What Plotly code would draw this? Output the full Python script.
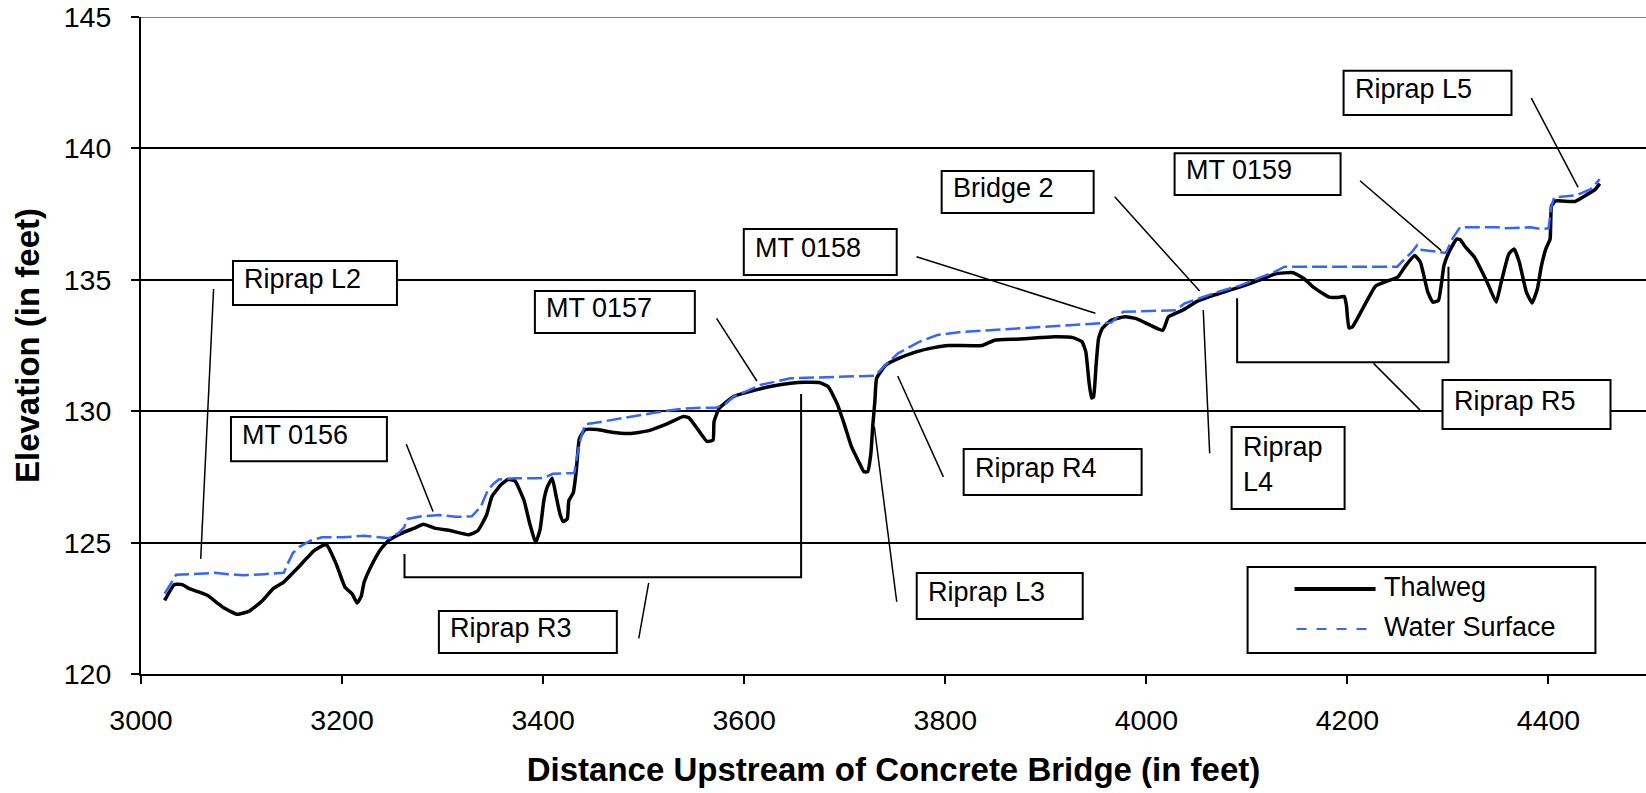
import plotly.graph_objects as go

# ---------------- data ----------------
thalweg_x = [3023.5, 3033, 3041, 3048, 3066, 3076, 3083, 3096, 3108, 3121, 3131.5, 3142, 3155,
             3172.5, 3181.5, 3185, 3194, 3203, 3210, 3215, 3219, 3222, 3229.5, 3238.5, 3247,
             3261.7, 3272, 3281, 3292, 3308, 3326, 3335, 3343.7, 3349, 3358, 3365, 3372, 3381,
             3386.5, 3392.5, 3397, 3400.7, 3404, 3409, 3413, 3416.7, 3420, 3424, 3425.6, 3430,
             3433, 3436, 3441.6, 3454, 3468, 3486, 3504, 3522, 3539.5, 3545, 3554, 3563, 3569,
             3570, 3575, 3589, 3610.7, 3628.5, 3646, 3660.5, 3674.7, 3683.6, 3692.5, 3699.6,
             3706.8, 3714, 3719, 3722.8, 3726, 3728, 3730, 3731.7, 3740.6, 3753, 3771, 3789,
             3803, 3836.7, 3849, 3870.5, 3895, 3909, 3927, 3936, 3939.8, 3943, 3945.5, 3947.5,
             3950, 3952.5, 3956, 3965, 3979, 3990, 4004, 4016.5, 4022, 4036, 4050.5, 4068,
             4089.6, 4111, 4128.6, 4146, 4157, 4166, 4182, 4192.5, 4197, 4199, 4201.5, 4205,
             4216, 4228, 4239, 4250, 4258, 4267, 4272.6, 4280, 4285, 4290.6, 4296, 4301,
             4308.6, 4312, 4317.5, 4326.4, 4339, 4348, 4353, 4360.5, 4365.8, 4371, 4378,
             4383.7, 4389, 4393, 4398, 4401.6, 4403, 4407, 4426, 4439, 4446, 4451]
thalweg_y = [122.8, 123.4, 123.4, 123.25, 123.0, 122.7, 122.5, 122.27, 122.4, 122.8, 123.25, 123.5, 124.0,
             124.7, 124.9, 124.9, 124.2, 123.3, 123.05, 122.7, 122.95, 123.5, 124.15, 124.75, 125.1,
             125.4, 125.55, 125.7, 125.55, 125.45, 125.3, 125.45, 126.05, 126.75, 127.2, 127.4, 127.35, 126.6,
             125.75, 125.0, 125.5, 126.6, 127.1, 127.45, 126.75, 126.1, 125.8, 125.9, 126.6, 126.9,
             127.75, 128.95, 129.3, 129.3, 129.2, 129.15, 129.25, 129.5, 129.8, 129.75, 129.3, 128.85, 128.9,
             129.6, 130.1, 130.55, 130.8, 130.96, 131.06, 131.1, 131.09, 130.93, 130.28, 129.5,
             128.64, 128.07, 127.7, 127.7, 128.4, 129.5, 130.4, 131.25, 131.75, 132.0, 132.26, 132.42,
             132.5, 132.5, 132.7, 132.74, 132.8, 132.83, 132.8, 132.64, 132.26, 131.1, 130.5, 130.55,
             131.75, 132.77, 133.14, 133.46, 133.59, 133.52, 133.27, 133.08, 133.59, 133.84, 134.18, 134.43,
             134.68, 134.97, 135.23, 135.27, 135.04, 134.72, 134.34, 134.34, 134.37, 134.03, 133.17, 133.21,
             133.96, 134.76, 134.94, 135.1, 135.54, 135.92, 135.67, 134.53, 134.15, 134.22, 135.54, 136.05,
             136.55, 136.53, 136.24, 135.86, 134.91, 134.15, 134.91, 135.98, 136.17, 135.67, 134.53,
             134.12, 134.66, 135.54, 136.24, 136.55, 137.81, 138.0, 137.98, 138.26, 138.42, 138.66]

water_x = [3023.5, 3030, 3035, 3051, 3073, 3087, 3101, 3122.6, 3142, 3146, 3151, 3158, 3169, 3180,
           3201, 3222, 3236.7, 3247, 3256, 3261.7, 3265, 3279, 3297, 3313, 3329, 3338, 3345, 3351,
           3356, 3372, 3393.6, 3400.7, 3409.6, 3431, 3436, 3441.6, 3450.5, 3468, 3490, 3507.5,
           3525, 3539.5, 3557, 3571.5, 3582, 3589, 3603.6, 3616, 3646, 3674.7, 3717, 3730, 3739,
           3753, 3774, 3792, 3817, 3842, 3877.6, 3913, 3950, 3965, 3977, 4029, 4038, 4054, 4068,
           4093, 4114.6, 4128.6, 4137.5, 4157, 4192.5, 4249.6, 4257, 4264, 4269, 4271, 4292.6,
           4298, 4305, 4312, 4335.6, 4350, 4353.5, 4382, 4393, 4400, 4403, 4405.6, 4428, 4442, 4451]
water_y = [123.06, 123.47, 123.78, 123.8, 123.85, 123.8, 123.76, 123.8, 123.85, 124.2, 124.6, 124.85, 125.08, 125.2,
           125.2, 125.26, 125.2, 125.17, 125.36, 125.58, 125.9, 126.0, 126.05, 125.98, 126.0, 126.37, 127.0, 127.25,
           127.4, 127.45, 127.45, 127.46, 127.62, 127.65, 128.77, 129.5, 129.55, 129.67, 129.8, 129.92,
           130.03, 130.1, 130.13, 130.13, 130.3, 130.55, 130.78, 131.0, 131.25, 131.28, 131.31, 131.35, 131.7,
           132.2, 132.64, 132.9, 133.02, 133.08, 133.17, 133.27, 133.35, 133.37, 133.78, 133.84, 134.1, 134.3, 134.5,
           134.78, 135.1, 135.32, 135.5, 135.5, 135.5, 135.5, 135.8, 136.05, 136.3, 136.15, 136.05,
           136.02, 136.6, 137.0, 137.0, 137.0, 136.96, 137.0, 136.93, 136.96, 137.81, 138.13, 138.22, 138.45, 138.83]

x_ticks = [3000, 3200, 3400, 3600, 3800, 4000, 4200, 4400]
y_ticks = [120, 125, 130, 135, 140, 145]

series_names = ["Thalweg", "Water Surface"]

label_texts = ["Riprap L2", "MT 0156", "Riprap R3", "MT 0157", "MT 0158", "Bridge 2",
               "Riprap R4", "Riprap L3", "Riprap<br>L4", "MT 0159", "Riprap L5", "Riprap R5"]

# ---------------- layout helpers (positions of callout boxes, data units) ----------------
box_pos = [
    (3091.5, 3254.6, 135.72, 134.04),
    (3089.5, 3244.6, 129.78, 128.10),
    (3296.3, 3473.3, 122.40, 120.80),
    (3391.8, 3550.9, 134.57, 132.98),
    (3599.6, 3751.7, 136.93, 135.18),
    (3796.4, 3947.6, 139.14, 137.54),
    (3818.3, 3995.3, 128.56, 126.81),
    (3771.6, 3936.7, 123.84, 122.09),
    (4084.8, 4197.2, 129.40, 126.28),
    (4028.1, 4193.2, 139.82, 138.23),
    (4196.2, 4363.2, 142.95, 141.27),
    (4294.6, 4461.7, 131.19, 129.32),
]

leaders = [
    (3072.2, 134.65, 3059.4, 124.38),
    (3263.9, 128.74, 3290.5, 126.18),
    (3505.0, 123.47, 3495.1, 121.36),
    (3572.5, 133.53, 3612.6, 131.15),
    (3771.4, 135.88, 3949.3, 133.73),
    (3968.5, 138.16, 4053.0, 134.57),
    (4056.6, 133.85, 4063.0, 128.40),
    (3752.7, 131.34, 3798.1, 127.50),
    (3729.4, 129.41, 3751.7, 122.75),
    (4212.5, 138.77, 4293.4, 136.11),
    (4382.9, 141.91, 4429.5, 138.52),
    (4226.0, 131.82, 4272.1, 130.05),
]

brackets = [
    "M 3262.1,124.57 L 3262.1,123.68 L 3656.6,123.68 L 3656.6,130.65",
    "M 4090.3,134.30 L 4090.3,131.86 L 4300.5,131.86 L 4300.5,135.50",
]

FONT = "Liberation Sans, Arial, sans-serif"
BLUE = "#3366FF"

fig = go.Figure()
fig.add_trace(go.Scatter(x=thalweg_x, y=thalweg_y, mode="lines", name=series_names[0],
                         line=dict(color="black", width=3.5, shape="spline", smoothing=0.4)))
fig.add_trace(go.Scatter(x=water_x, y=water_y, mode="lines", name=series_names[1],
                         line=dict(color=BLUE, width=2.5, dash="15px,5px")))

shapes = []
annotations = []

# top border (gray)
shapes.append(dict(type="line", xref="paper", yref="y", x0=0, x1=1, y0=145, y1=145,
                   line=dict(color="#808080", width=2), layer="above"))

for (x0, y0, x1, y1) in leaders:
    shapes.append(dict(type="line", xref="x", yref="y", x0=x0, y0=y0, x1=x1, y1=y1,
                       line=dict(color="black", width=1.5), layer="above"))
for p in brackets:
    shapes.append(dict(type="path", xref="x", yref="y", path=p,
                       line=dict(color="black", width=2), layer="above"))

for txt, (x0, x1, yt, yb) in zip(label_texts, box_pos):
    shapes.append(dict(type="rect", xref="x", yref="y", x0=x0, x1=x1, y0=yb, y1=yt,
                       fillcolor="white", line=dict(color="black", width=2), layer="above"))
    annotations.append(dict(x=x0 + 9, y=(yt + yb) / 2 + 0.15, xref="x", yref="y", text=txt,
                            showarrow=False, xanchor="left", yanchor="middle", align="left",
                            font=dict(family=FONT, size=27, color="black")))

# custom legend
shapes.append(dict(type="rect", xref="x", yref="y", x0=4100.7, x1=4446.7, y0=120.80, y1=124.07,
                   fillcolor="white", line=dict(color="black", width=2), layer="above"))
shapes.append(dict(type="line", xref="x", yref="y", x0=4147.4, x1=4228, y0=123.23, y1=123.23,
                   line=dict(color="black", width=4), layer="above"))
shapes.append(dict(type="line", xref="x", yref="y", x0=4149.4, x1=4227, y0=121.71, y1=121.71,
                   line=dict(color=BLUE, width=2, dash="10px,10px"), layer="above"))
for name, yy in zip(series_names, [123.31, 121.77]):
    annotations.append(dict(x=4234, y=yy, xref="x", yref="y", text=name, showarrow=False,
                            xanchor="left", yanchor="middle",
                            font=dict(family=FONT, size=27, color="black")))

fig.update_layout(
    width=1646, height=793,
    margin=dict(l=141, r=0, t=17, b=119),
    plot_bgcolor="white", paper_bgcolor="white",
    font=dict(family=FONT, color="black"),
    showlegend=False,
    shapes=shapes, annotations=annotations,
)
fig.update_xaxes(range=[3000, 4497], tickvals=x_ticks, ticktext=[str(v) for v in x_ticks],
                 ticks="outside", ticklen=8, tickwidth=2, tickcolor="black",
                 showline=True, linecolor="black", linewidth=2, showgrid=False, zeroline=False,
                 tickfont=dict(family=FONT, size=28.5, color="black"), ticklabelstandoff=12,
                 title=dict(text="<b>Distance Upstream of Concrete Bridge (in feet)</b>",
                            font=dict(family=FONT, size=33, color="black"), standoff=23),
                 automargin=False)
fig.update_yaxes(range=[120, 145], tickvals=y_ticks, ticktext=[str(v) for v in y_ticks],
                 ticks="outside", ticklen=8, tickwidth=2, tickcolor="black",
                 showline=True, linecolor="black", linewidth=2,
                 showgrid=True, gridcolor="black", gridwidth=1.5, zeroline=False,
                 tickfont=dict(family=FONT, size=28.5, color="black"), ticklabelstandoff=14,
                 title=dict(text="<b>Elevation (in feet)</b>",
                            font=dict(family=FONT, size=33, color="black"), standoff=14),
                 automargin=False)

fig.write_html("out.html", config={"displayModeBar": False},
               post_script="document.body.style.margin='0';")
